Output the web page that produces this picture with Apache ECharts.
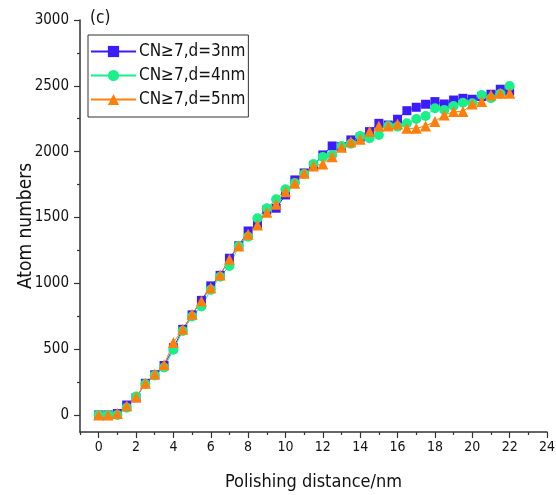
<!DOCTYPE html>
<html>
<head>
<meta charset="utf-8">
<script src="https://cdn.jsdelivr.net/npm/echarts@6/dist/echarts.min.js"></script>
<style>html,body{margin:0;padding:0;background:#fff;}#c{width:556px;height:495px;}</style>
</head>
<body>
<div id="c"></div>
<script>
var distances = [0,0.5,1,1.5,2,2.5,3,3.5,4,4.5,5,5.5,6,6.5,7,7.5,8,8.5,9,9.5,10,10.5,11,11.5,12,12.5,13,13.5,14,14.5,15,15.5,16,16.5,17,17.5,18,18.5,19,19.5,20,20.5,21,21.5,22];
var d3nm = [0,0,10,75,130,240,305,375,510,650,760,870,980,1060,1190,1285,1397,1450,1557,1570,1671,1785,1838,1895,1975,2043,2038,2089,2110,2152,2215,2202,2246,2311,2337,2360,2380,2362,2392,2405,2398,2418,2436,2474,2460];
var d4nm = [0,0,0,55,140,235,300,360,495,638,747,823,950,1050,1132,1283,1354,1494,1570,1638,1714,1762,1830,1906,1960,1975,2043,2060,2119,2101,2127,2195,2190,2215,2248,2271,2329,2317,2347,2372,2367,2430,2405,2440,2499];
var d5nm = [0,0,10,70,135,240,310,380,550,650,765,865,965,1063,1182,1283,1372,1443,1540,1600,1696,1760,1836,1891,1906,1962,2033,2076,2094,2152,2195,2195,2210,2177,2177,2195,2228,2279,2304,2304,2362,2380,2430,2443,2443];
var seriesNames = ['CN\u22657,d=3nm','CN\u22657,d=4nm','CN\u22657,d=5nm'];
var seriesColors = ['#3b1cff','#19f08a','#ff7f0a'];
var xTicks = [0,2,4,6,8,10,12,14,16,18,20,22,24];
var xMinorTicks = [-1,1,3,5,7,9,11,13,15,17,19,21,23];
var yTicks = [0,500,1000,1500,2000,2500,3000];
var yMinorTicks = [250,750,1250,1750,2250,2750];

function pairs(vals){ return distances.map(function(x,i){ return [x, vals[i]]; }); }

var FONT = "'DejaVu Sans Condensed','DejaVu Sans',sans-serif";
var chart = echarts.init(document.getElementById('c'));
var lineCol = '#333';
function mainAxis(extra){
  return Object.assign({
    type:'value',
    axisLine:{show:true,onZero:false,lineStyle:{color:lineCol,width:1.5}},
    axisTick:{show:true,length:6,lineStyle:{color:lineCol,width:1.2}},
    splitLine:{show:false}
  }, extra);
}
function minorAxis(extra, vals){
  return Object.assign({
    type:'value',
    axisLine:{show:false,onZero:false},
    axisTick:{show:true,length:3,customValues:vals,lineStyle:{color:lineCol,width:1.2}},
    axisLabel:{show:false},
    splitLine:{show:false}
  }, extra);
}
chart.setOption({
  animation:false,
  backgroundColor:'#fff',
  grid:{left:80,right:9,top:20,bottom:63,containLabel:false,outerBoundsMode:'none'},
  graphic:[{type:'text',left:90,top:10,style:{text:'(c)',font:'17px '+FONT,fill:'#111'}}],
  legend:{
    show:true, orient:'vertical', left:88, top:35,
    data:seriesNames,
    itemWidth:45, itemHeight:14, itemGap:7,
    padding:[8,3,9,2],
    borderColor:'#333', borderWidth:1,
    textStyle:{fontFamily:FONT,fontSize:17,color:'#111',lineHeight:17,padding:[0,0,0,-2]}
  },
  xAxis:[
    mainAxis({min:-1,max:24,position:'bottom',
      name:'Polishing distance/nm', nameLocation:'middle', nameGap:41, nameMoveOverlap:false,
      nameTextStyle:{fontFamily:FONT,fontSize:18,color:'#111'},
      axisTick:{show:true,length:6,customValues:xTicks,lineStyle:{color:lineCol,width:1.2}},
      axisLabel:{customValues:xTicks,margin:8,fontFamily:FONT,fontSize:14,color:'#111',
        formatter:function(v){return String(v);}}}),
    minorAxis({min:-1,max:24,position:'bottom'}, xMinorTicks)
  ],
  yAxis:[
    mainAxis({min:-130,max:3000,position:'left',
      name:'Atom numbers', nameLocation:'middle', nameGap:44, nameMoveOverlap:false,
      nameTextStyle:{fontFamily:FONT,fontSize:19,color:'#111'},
      axisTick:{show:true,length:6,customValues:yTicks,lineStyle:{color:lineCol,width:1.2}},
      axisLabel:{customValues:yTicks,margin:11,fontFamily:FONT,fontSize:15,color:'#111',
        formatter:function(v){return String(v);}}}),
    minorAxis({min:-130,max:3000,position:'left'}, yMinorTicks)
  ],
  series:[
    {name:seriesNames[0],type:'line',data:pairs(d3nm),symbol:'rect',symbolSize:9,
     itemStyle:{color:seriesColors[0]},lineStyle:{color:seriesColors[0],width:1}},
    {name:seriesNames[1],type:'line',data:pairs(d4nm),symbol:'circle',symbolSize:10,
     itemStyle:{color:seriesColors[1]},lineStyle:{color:seriesColors[1],width:1}},
    {name:seriesNames[2],type:'line',data:pairs(d5nm),symbol:'triangle',symbolSize:11,
     itemStyle:{color:seriesColors[2]},lineStyle:{color:seriesColors[2],width:1}}
  ]
});
</script>
</body>
</html>
